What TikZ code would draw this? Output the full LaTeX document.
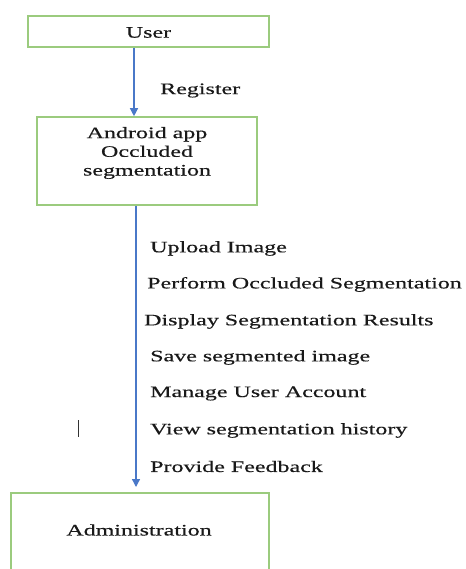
\documentclass[tikz,border=0pt]{standalone}
\usepackage{fontspec}
\setmainfont{Liberation Serif}[FakeStretch=1.5,FakeBold=0.4]
\usetikzlibrary{arrows.meta}
\definecolor{boxgreen}{HTML}{9BCB7E}
\definecolor{arrblue}{HTML}{4A78C8}
\tikzset{
  box/.style={draw=boxgreen, line width=1.6pt, fill=white, inner sep=0pt},
  txt/.style={font=\fontsize{16}{18.7}\selectfont, text=black!90, inner sep=0pt},
  lbl/.style={txt, anchor=west},
  arr/.style={draw=arrblue, line width=1.3pt, -{Triangle[length=8pt,width=8pt]}}
}
\begin{document}
\begin{tikzpicture}[x=1pt,y=-1pt]
\useasboundingbox (0,0) rectangle (465,569);
\clip (0,0) rectangle (465,569);
% boxes
\node[box, minimum width=241pt, minimum height=31pt] (user) at (148.5,31.5) {};
\node[txt] (userlbl) at (148.5,32.5) {User};
\node[box, minimum width=220pt, minimum height=88pt] (app) at (147,161) {};
\node[txt, align=center] (applbl) at (147,153) {Android app\\Occluded\\segmentation};
\node[box, minimum width=258pt, minimum height=90pt, anchor=north west] (admin) at (10,492) {};
\node[txt] (adminlbl) at (139,530) {Administration};
% connectors
\coordinate (a1) at (134,0);
\draw[arr] (user.south -| a1) -- (app.north -| a1);
\node[lbl] (reg) at (160,90.5) {Register};
\coordinate (e2) at (136,487);
\draw[arr] (app.south -| e2) -- (e2);
% action labels
\node[lbl] (l1) at (150,248.5) {Upload Image};
\node[lbl] (l2) at (147,284.5) {Perform Occluded Segmentation};
\node[lbl] (l3) at (144,321.5) {Display Segmentation Results};
\node[lbl] (l4) at (150,357.5) {Save segmented image};
\node[lbl] (l5) at (150,393.5) {Manage User Account};
\node[lbl] (l6) at (150,430.5) {View segmentation history};
\node[lbl] (l7) at (150,466.5) {Provide Feedback};
% stray bar
\coordinate (b1) at (78,420);
\coordinate (b2) at (78,437);
\draw[line width=1pt, black!80] (b1) -- (b2);
\end{tikzpicture}
\end{document}
